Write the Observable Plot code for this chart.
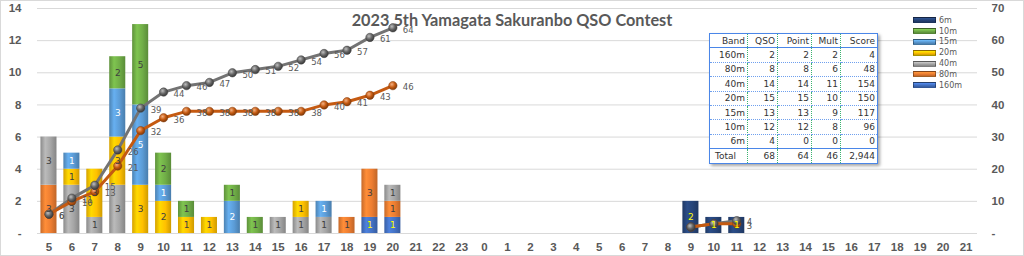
<!DOCTYPE html>
<html><head><meta charset="utf-8">
<script src="https://cdn.jsdelivr.net/npm/d3@7"></script>
<script src="https://cdn.jsdelivr.net/npm/@observablehq/plot@0.6"></script>
<style>
html,body{margin:0;padding:0;background:#fff;}
#wrap{position:relative;width:1024px;height:256px;overflow:hidden;font-family:"DejaVu Sans",sans-serif;}
#frame{position:absolute;left:0;top:0;width:1022px;height:254px;border:1px solid #d9d9d9;pointer-events:none;}
#title{position:absolute;left:0;width:1024px;top:10px;text-align:center;font:bold 16.3px Lato,sans-serif;color:#595959;line-height:20px;pointer-events:none;}
#tbl{position:absolute;left:709px;top:33px;border-collapse:collapse;background:#fff;border:1px solid #4a86e8;box-shadow:2px 2px 3px rgba(0,0,0,0.35);font:9px "DejaVu Sans",sans-serif;color:#333;}
#tbl td{padding:0 2px;text-align:right;height:13.4px;border-right:1px dotted #3cb371;border-bottom:1px dotted #6fa0ee;white-space:nowrap;}
#tbl td:last-child{border-right:none;}
#tbl tr.head td{border-bottom:1px solid #4a86e8;}
#tbl tr.total td{border-top:1px solid #4a86e8;border-bottom:none;}
#tbl tr.total td:first-child{text-align:left;padding-left:5px;}
#legend{position:absolute;left:913px;top:15px;font:8px "DejaVu Sans",sans-serif;color:#595959;}
#legend .it{display:flex;align-items:center;height:10.8px;}
#legend .sw{width:21px;height:4px;margin-right:3px;border:1px solid rgba(0,0,0,0.35);}
</style>
</head><body>
<div id="wrap"><div id="chart"></div><div id="title"></div><table id="tbl"></table><div id="legend"></div><div id="frame"></div></div>
<script>
// ---- data ----
const hours = [5,6,7,8,9,10,11,12,13,14,15,16,17,18,19,20,21,22,23,0,1,2,3,4,5,6,7,8,9,10,11,12,13,14,15,16,17,18,19,20,21];
const bands = ["160m","80m","40m","20m","15m","10m","6m"];
const bandColors = ["#4472C4","#ED7D31","#A5A5A5","#FFC000","#5B9BD5","#70AD47","#264478"];
const bandLabelColors = ["#FFFF00","#404040","#404040","#404040","#FFFFFF","#404040","#FFFF00"];
//            5 6 7 8 9 10 11 12 13 14 15 16 17 18 19 20 21 22 23 0 1 2 3 4 5 6 7 8 9 10 11 12 13 14 15 16 17 18 19 20 21
const q160m = [0,0,0,0,0,0, 0, 0, 0, 0, 0, 0, 0, 0, 1, 1, 0, 0, 0,0,0,0,0,0,0,0,0,0,0, 0, 0, 0, 0, 0, 0, 0, 0, 0, 0, 0, 0];
const q80m  = [3,0,0,0,0,0, 0, 0, 0, 0, 0, 0, 0, 1, 3, 1, 0, 0, 0,0,0,0,0,0,0,0,0,0,0, 0, 0, 0, 0, 0, 0, 0, 0, 0, 0, 0, 0];
const q40m  = [3,3,1,3,0,0, 0, 0, 0, 0, 1, 1, 1, 0, 0, 1, 0, 0, 0,0,0,0,0,0,0,0,0,0,0, 0, 0, 0, 0, 0, 0, 0, 0, 0, 0, 0, 0];
const q20m  = [0,1,3,3,3,2, 1, 1, 0, 0, 0, 1, 0, 0, 0, 0, 0, 0, 0,0,0,0,0,0,0,0,0,0,0, 0, 0, 0, 0, 0, 0, 0, 0, 0, 0, 0, 0];
const q15m  = [0,1,0,3,5,1, 0, 0, 2, 0, 0, 0, 1, 0, 0, 0, 0, 0, 0,0,0,0,0,0,0,0,0,0,0, 0, 0, 0, 0, 0, 0, 0, 0, 0, 0, 0, 0];
const q10m  = [0,0,0,2,5,2, 1, 0, 1, 1, 0, 0, 0, 0, 0, 0, 0, 0, 0,0,0,0,0,0,0,0,0,0,0, 0, 0, 0, 0, 0, 0, 0, 0, 0, 0, 0, 0];
const q6m   = [0,0,0,0,0,0, 0, 0, 0, 0, 0, 0, 0, 0, 0, 0, 0, 0, 0,0,0,0,0,0,0,0,0,0,2, 1, 1, 0, 0, 0, 0, 0, 0, 0, 0, 0, 0];
const cumQSO  = [6,11,15,26,39,44,46,47,50,51,52,54,56,57,61,64,null,null,null,null,null,null,null,null,null,null,null,null,2,3,4,null,null,null,null,null,null,null,null,null,null];
const cumMult = [6,10,13,21,32,36,38,38,38,38,38,38,40,41,43,46,null,null,null,null,null,null,null,null,null,null,null,null,2,3,3,null,null,null,null,null,null,null,null,null,null];
const hiddenLineLabels = [28,29];
const yTicks = [0,2,4,6,8,10,12,14];
const y2Ticks = [0,10,20,30,40,50,60,70];
const titleText = "2023 5th Yamagata Sakuranbo QSO Contest";
const tableHead = ["Band","QSO","Point","Mult","Score"];
const tableBand = ["160m","80m","40m","20m","15m","10m","6m","Total"];
const tableQSO = [2,8,14,15,13,12,4,68];
const tablePoint = [2,8,14,15,13,12,0,64];
const tableMult = [2,6,11,10,9,8,0,46];
const tableScore = [4,48,154,150,117,96,0,2944];
const legendOrder = ["6m","10m","15m","20m","40m","80m","160m"];

// ---- build ----
const perBand = [q160m,q80m,q40m,q20m,q15m,q10m,q6m];
const ratio = y2Ticks[y2Ticks.length-1] / yTicks[yTicks.length-1];
const rows = [];
bands.forEach((b,k) => perBand[k].forEach((v,i) => { if (v > 0) rows.push({i, band:b, k, v}); }));
const pts = hours.map((h,i) => ({i, qso: cumQSO[i], mult: cumMult[i]}));
const toY = v => v == null ? NaN : v / ratio;
const qPts = pts.filter(d => d.qso != null);
const mPts = pts.filter(d => d.mult != null);
const labFilter = d => !hiddenLineLabels.includes(d.i);
const axisFont = {fontSize: 11.5, fontWeight: "bold", fontFamily: "Liberation Sans, sans-serif", label: null};

const chart = Plot.plot({
  width: 1024, height: 256,
  marginLeft: 37, marginRight: 47, marginTop: 8, marginBottom: 23,
  style: {color: "#595959", background: "transparent", fontFamily: "DejaVu Sans, sans-serif"},
  x: {type: "band", domain: d3.range(hours.length), paddingInner: 0.3, paddingOuter: 0.15, label: null},
  y: {domain: [0, yTicks[yTicks.length-1]], label: null},
  color: {type: "identity"},
  marks: [
    Plot.gridY(yTicks, {stroke: "#d9d9d9", strokeOpacity: 1}),
    Plot.barY(rows, Plot.stackY({x: "i", y: "v", z: "band", fill: d => `url(#bg${d.k})`})),
    Plot.line(pts, {x: "i", y: d => toY(d.qso), stroke: "#737373", strokeWidth: 3}),
    Plot.line(pts, {x: "i", y: d => toY(d.mult), stroke: "#c55a11", strokeWidth: 3}),
    Plot.dot(mPts, {x: "i", y: d => toY(d.mult), r: 4.2, fill: "url(#ballO)", stroke: "#843c0c", strokeWidth: 0.5}),
    Plot.dot(qPts, {x: "i", y: d => toY(d.qso), r: 4.2, fill: "url(#ballG)", stroke: "#404040", strokeWidth: 0.5}),
    Plot.text(rows, Plot.stackY({x: "i", y: "v", z: "band", text: d => String(d.v), fill: d => bandLabelColors[d.k], fontSize: 9, fontFamily: "DejaVu Sans, sans-serif"})),
    Plot.text(mPts.filter(labFilter), {x: "i", y: d => toY(d.mult), text: d => String(d.mult), dx: 10, dy: 2, textAnchor: "start", fontSize: 8.5, fill: "#595959"}),
    Plot.text(qPts.filter(labFilter), {x: "i", y: d => toY(d.qso), text: d => String(d.qso), dx: 10, dy: 2, textAnchor: "start", fontSize: 8.5, fill: "#595959"}),
    Plot.axisX({tickSize: 0, tickPadding: 9, tickFormat: i => String(hours[i]), ...axisFont}),
    Plot.axisY(yTicks, {anchor: "left", tickSize: 0, tickPadding: 16, tickFormat: d => d === 0 ? "-" : String(d), ...axisFont}),
    Plot.axisY(y2Ticks.map(v => v / ratio), {anchor: "right", tickSize: 0, tickPadding: 14, tickFormat: d => d === 0 ? "-" : String(Math.round(d * ratio)), ...axisFont})
  ]
});

// gradients
const svg = d3.select(chart.tagName.toLowerCase() === "svg" ? chart : chart.querySelector("svg"));
const defs = svg.insert("defs", ":first-child");
bandColors.forEach((c,k) => {
  const g = defs.append("linearGradient").attr("id", `bg${k}`).attr("x1", 0).attr("x2", 1).attr("y1", 0).attr("y2", 0);
  const base = d3.color(c);
  [[0, base.darker(0.5)], [0.3, base.brighter(0.35)], [0.65, base], [1, base.darker(0.6)]].forEach(([o, col]) =>
    g.append("stop").attr("offset", o).attr("stop-color", col.formatHex()));
});
function ball(id, light, mid, dark) {
  const g = defs.append("radialGradient").attr("id", id).attr("cx", "38%").attr("cy", "35%").attr("r", "65%");
  g.append("stop").attr("offset", 0).attr("stop-color", light);
  g.append("stop").attr("offset", 0.55).attr("stop-color", mid);
  g.append("stop").attr("offset", 1).attr("stop-color", dark);
}
ball("ballG", "#bfbfbf", "#666666", "#3a3a3a");
ball("ballO", "#f4b183", "#c55a11", "#7f3a0b");

document.getElementById("chart").appendChild(chart);
document.getElementById("title").textContent = titleText;

// table
const tbl = d3.select("#tbl");
const colW = [38,30,34,29,37];
const hr = tbl.append("tr").attr("class", "head");
tableHead.forEach((h,j) => hr.append("td").style("width", (colW[j]-5) + "px").text(h));
const fmt = d3.format(",");
tableBand.forEach((b,r) => {
  const tr = tbl.append("tr").attr("class", b === "Total" ? "total" : null);
  [b, tableQSO[r], tablePoint[r], tableMult[r], fmt(tableScore[r])].forEach(v => tr.append("td").text(v));
});

// legend
const lg = d3.select("#legend");
legendOrder.forEach(b => {
  const c = d3.color(bandColors[bands.indexOf(b)]);
  const it = lg.append("div").attr("class", "it");
  it.append("div").attr("class", "sw").style("background", `linear-gradient(to bottom, ${c.brighter(0.6).formatHex()}, ${c.formatHex()} 50%, ${c.darker(0.6).formatHex()})`);
  it.append("span").text(b);
});
</script>
</body></html>
